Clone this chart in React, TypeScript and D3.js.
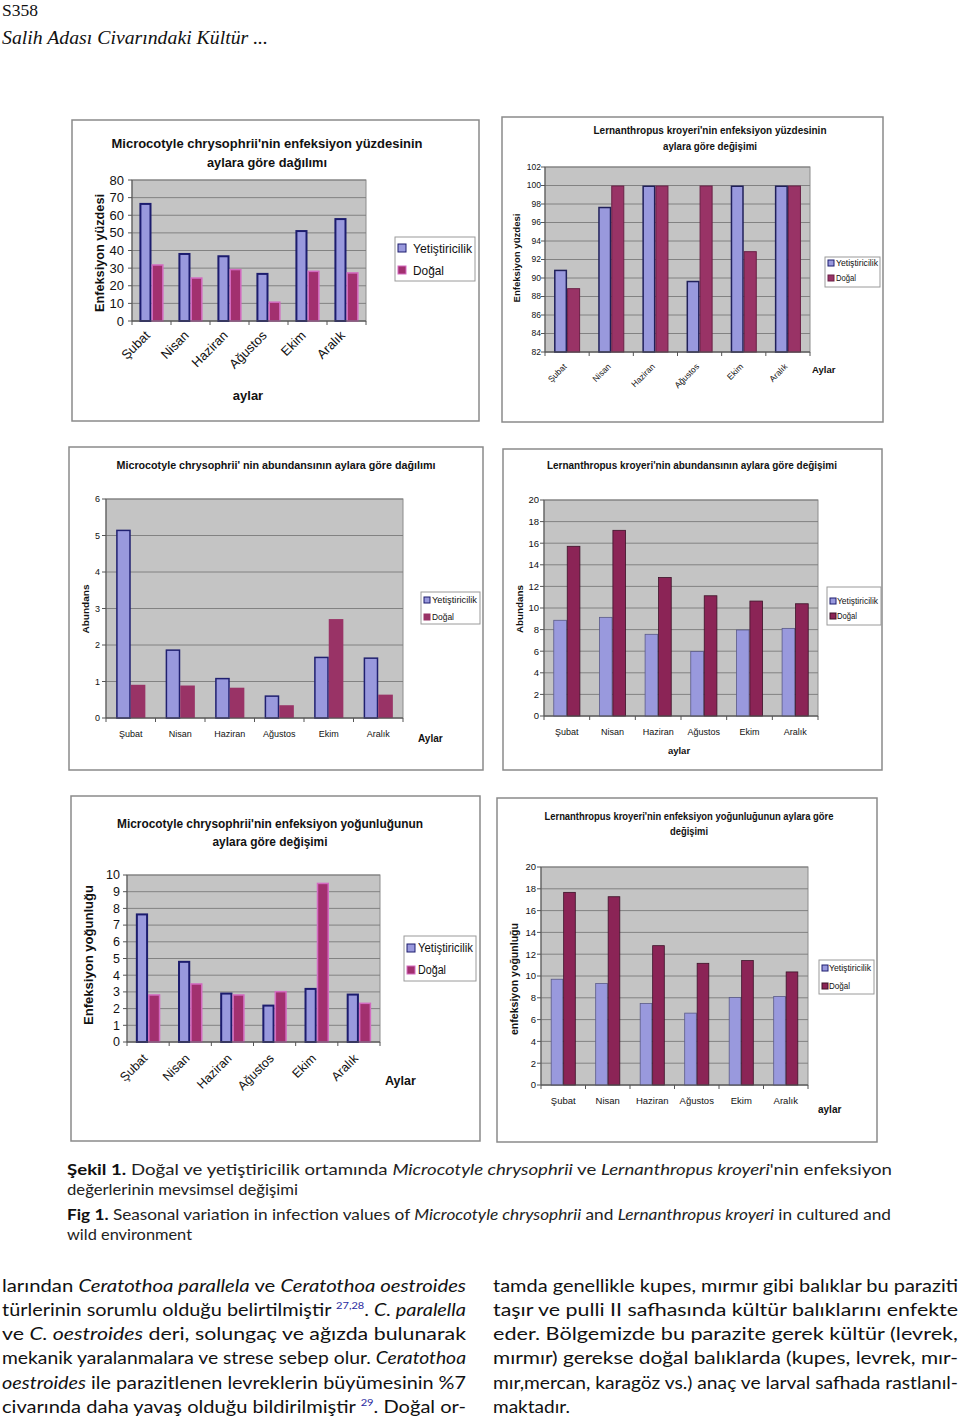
import React from "react";
import * as d3 from "d3";

// ---------- DATA ----------
const months = ["Şubat", "Nisan", "Haziran", "Ağustos", "Ekim", "Aralık"];
const seriesNames = ["Yetiştiricilik", "Doğal"];

const mcPrevYet = [67, 38.6, 37.3, 27.3, 51.6, 58.4];
const mcPrevDog = [32.2, 24.8, 29.6, 11.1, 28.6, 27.7];
const lkPrevYet = [90.9, 97.7, 100, 89.7, 100, 100];
const lkPrevDog = [88.9, 100, 100, 100, 92.9, 100];
const mcAbYet = [5.16, 1.88, 1.1, 0.62, 1.68, 1.66];
const mcAbDog = [0.91, 0.89, 0.83, 0.35, 2.71, 0.64];
const lkAbYet = [8.9, 9.17, 7.6, 6.0, 8.0, 8.15];
const lkAbDog = [15.75, 17.23, 12.86, 11.17, 10.68, 10.43];
const mcIntYet = [7.7, 4.86, 2.96, 2.24, 3.24, 2.9];
const mcIntDog = [2.86, 3.52, 2.86, 3.06, 9.54, 2.36];
const lkIntYet = [9.74, 9.34, 7.51, 6.63, 8.06, 8.15];
const lkIntDog = [17.71, 17.31, 12.82, 11.2, 11.45, 10.41];

const ticksPrevMc = [0, 10, 20, 30, 40, 50, 60, 70, 80];
const ticksPrevLk = [82, 84, 86, 88, 90, 92, 94, 96, 98, 100, 102];
const ticksAbMc = [0, 1, 2, 3, 4, 5, 6];
const ticksAbLk = [0, 2, 4, 6, 8, 10, 12, 14, 16, 18, 20];
const ticksIntMc = [0, 1, 2, 3, 4, 5, 6, 7, 8, 9, 10];
const ticksIntLk = [0, 2, 4, 6, 8, 10, 12, 14, 16, 18, 20];

// ---------- STYLES ----------
const SANS = "'Liberation Sans', Arial, sans-serif";
const YET_FILL = "#9999dd";
const styleA = { yetStroke: "#1c1c6e", yetSW: 2, dogFill: "#a2306f", dogStroke: "#d36ac0", dogSW: 1.5 };
const styleB = { yetStroke: "#20205a", yetSW: 1.5, dogFill: "#993366", dogStroke: "#6a2046", dogSW: 1 };
const styleC = { yetStroke: "#202070", yetSW: 1.5, dogFill: "#993366", dogStroke: "none", dogSW: 0 };
const styleD = { yetStroke: "#5a5a88", yetSW: 0.8, dogFill: "#8b2456", dogStroke: "#3c1228", dogSW: 0.8 };

const charts = [
  {
    frame: [72, 120, 479, 421], plot: [132, 180, 366, 321], domain: [0, 80], ticks: ticksPrevMc,
    yet: mcPrevYet, dog: mcPrevDog, tickFont: 13, tickRight: 124,
    title: ["Microcotyle chrysophrii'nin enfeksiyon yüzdesinin", "aylara göre dağılımı"],
    titleCx: 267, titleY: [148, 167], titleW: [311, 120], titleFont: 12,
    yTitle: "Enfeksiyon yüzdesi", yTitleX: 99, yTitleCy: 253, yTitleLen: 118, yTitleFont: 13,
    rotate: true, catFont: 13, catDx: -4, catDy: 12,
    xTitle: "aylar", xTitleX: 248, xTitleY: 400, xTitleAnchor: "middle", xTitleFont: 13,
    legend: [395, 237, 475, 281], legY: [248, 270], legSw: 398, legSwS: 8, legText: 413, legFont: 13, legW: [59, 31],
    style: styleA, pi: 0.38,
  },
  {
    frame: [502, 117, 883, 422], plot: [545, 167, 810, 352], domain: [82, 102], ticks: ticksPrevLk,
    yet: lkPrevYet, dog: lkPrevDog, tickFont: 8.5, tickRight: 541,
    title: ["Lernanthropus kroyeri'nin enfeksiyon yüzdesinin", "aylara göre değişimi"],
    titleCx: 710, titleY: [134, 150], titleW: [233, 94], titleFont: 10,
    yTitle: "Enfeksiyon yüzdesi", yTitleX: 517, yTitleCy: 258, yTitleLen: 89, yTitleFont: 9,
    rotate: true, catFont: 8.5, catDx: -2, catDy: 13,
    xTitle: "Aylar", xTitleX: 812, xTitleY: 373, xTitleAnchor: "start", xTitleFont: 9.5,
    legend: [825, 257, 880, 287], legY: [263, 278], legSw: 828, legSwS: 6, legText: 836, legFont: 8.5, legW: [42, 20],
    style: styleB, pi: 0.41,
  },
  {
    frame: [69, 447, 483, 770], plot: [106, 499, 403, 718], domain: [0, 6], ticks: ticksAbMc,
    yet: mcAbYet, dog: mcAbDog, tickFont: 9, tickRight: 100,
    title: ["Microcotyle chrysophrii' nin abundansının aylara göre dağılımı"],
    titleCx: 276, titleY: [469], titleW: [319], titleFont: 11,
    yTitle: "Abundans", yTitleX: 86, yTitleCy: 609, yTitleLen: 49, yTitleFont: 9.5,
    rotate: false, catFont: 9, catBase: 737,
    xTitle: "Aylar", xTitleX: 418, xTitleY: 742, xTitleAnchor: "start", xTitleFont: 10,
    legend: [421, 592, 480, 624], legY: [600, 617], legSw: 424, legSwS: 6, legText: 432, legFont: 9.5, legW: [45, 22],
    style: styleC, pi: 0.41,
  },
  {
    frame: [503, 449, 882, 770], plot: [544, 500, 818, 716], domain: [0, 20], ticks: ticksAbLk,
    yet: lkAbYet, dog: lkAbDog, tickFont: 9.5, tickRight: 539,
    title: ["Lernanthropus kroyeri'nin abundansının aylara göre değişimi"],
    titleCx: 692, titleY: [469], titleW: [290], titleFont: 10.5,
    yTitle: "Abundans", yTitleX: 520, yTitleCy: 609, yTitleLen: 48, yTitleFont: 9.5,
    rotate: false, catFont: 9, catBase: 735,
    xTitle: "aylar", xTitleX: 679, xTitleY: 754, xTitleAnchor: "middle", xTitleFont: 9.5,
    legend: [827, 587, 881, 625], legY: [601, 616], legSw: 830, legSwS: 6, legText: 837, legFont: 9, legW: [41, 20],
    style: styleD, pi: 0.41,
  },
  {
    frame: [71, 796, 480, 1141], plot: [127, 875, 380, 1042], domain: [0, 10], ticks: ticksIntMc,
    yet: mcIntYet, dog: mcIntDog, tickFont: 12.5, tickRight: 120,
    title: ["Microcotyle chrysophrii'nin  enfeksiyon yoğunluğunun", "aylara göre değişimi"],
    titleCx: 270, titleY: [828, 846], titleW: [306, 115], titleFont: 12,
    yTitle: "Enfeksiyon yoğunluğu", yTitleX: 88, yTitleCy: 955, yTitleLen: 140, yTitleFont: 13,
    rotate: true, catFont: 12.5, catDx: -3, catDy: 14,
    xTitle: "Aylar", xTitleX: 385, xTitleY: 1085, xTitleAnchor: "start", xTitleFont: 12.5,
    legend: [404, 936, 476, 981], legY: [948, 970], legSw: 407, legSwS: 8, legText: 418, legFont: 12.5, legW: [55, 28],
    style: styleA, pi: 0.42,
  },
  {
    frame: [497, 798, 877, 1142], plot: [541, 867, 808, 1085], domain: [0, 20], ticks: ticksIntLk,
    yet: lkIntYet, dog: lkIntDog, tickFont: 9.5, tickRight: 536,
    title: ["Lernanthropus kroyeri'nin enfeksiyon yoğunluğunun aylara göre", "değişimi"],
    titleCx: 689, titleY: [820, 835], titleW: [289, 38], titleFont: 10.5,
    yTitle: "enfeksiyon yoğunluğu", yTitleX: 514, yTitleCy: 979, yTitleLen: 112, yTitleFont: 10,
    rotate: false, catFont: 9.5, catBase: 1104,
    xTitle: "aylar", xTitleX: 818, xTitleY: 1113, xTitleAnchor: "start", xTitleFont: 10,
    legend: [819, 960, 874, 994], legY: [968, 986], legSw: 822, legSwS: 6, legText: 829, legFont: 9.5, legW: [42, 21],
    style: styleD, pi: 0.44,
  },
];

function Chart({ c }: { c: any }) {
  const [fx0, fy0, fx1, fy1] = c.frame;
  const [px0, py0, px1, py1] = c.plot;
  const y = d3.scaleLinear().domain(c.domain).range([py1, py0]);
  const x = d3.scaleBand().domain(months).range([px0, px1]).paddingInner(c.pi).paddingOuter(c.pi / 2);
  const xs = d3.scaleBand().domain(seriesNames).range([0, x.bandwidth()]);
  const step = x.step();
  const st = c.style;
  const [lx0, ly0, lx1, ly1] = c.legend;
  const vals = [c.yet, c.dog];
  return (
    <g fontFamily={SANS}>
      <rect x={fx0} y={fy0} width={fx1 - fx0} height={fy1 - fy0} fill="#fff" stroke="#8a8a8a" strokeWidth={1.5} />
      <rect x={px0} y={py0} width={px1 - px0} height={py1 - py0} fill="#c4c4c4" stroke="#8c8c8c" strokeWidth={1} />
      {c.ticks.map((t: number) => (
        <line key={"g" + t} x1={px0} x2={px1} y1={y(t)} y2={y(t)} stroke="#7a7a7a" strokeWidth={0.9} />
      ))}
      {months.map((m, i) =>
        seriesNames.map((s, j) => {
          const v = vals[j][i];
          const bx = (x(m) as number) + (xs(s) as number);
          const isYet = j === 0;
          const sw = isYet ? st.yetSW : st.dogSW;
          return (
            <rect
              key={m + s}
              x={bx + sw / 2}
              y={y(v) + sw / 2}
              width={xs.bandwidth() - sw}
              height={Math.max(0, y(c.domain[0]) - y(v) - sw / 2)}
              fill={isYet ? YET_FILL : st.dogFill}
              stroke={isYet ? st.yetStroke : st.dogStroke}
              strokeWidth={sw}
            />
          );
        })
      )}
      {/* axes */}
      <line x1={px0} x2={px0} y1={py0} y2={py1} stroke="#555" strokeWidth={1} />
      <line x1={px0} x2={px1} y1={py1} y2={py1} stroke="#555" strokeWidth={1} />
      {c.ticks.map((t: number) => (
        <g key={"t" + t}>
          <line x1={px0 - 4} x2={px0} y1={y(t)} y2={y(t)} stroke="#555" strokeWidth={1} />
          <text x={c.tickRight} y={y(t)} dy="0.35em" textAnchor="end" fontSize={c.tickFont} fill="#111">
            {t}
          </text>
        </g>
      ))}
      {d3.range(months.length + 1).map((k) => (
        <line key={"xt" + k} x1={px0 + k * step} x2={px0 + k * step} y1={py1} y2={py1 + 4} stroke="#555" strokeWidth={1} />
      ))}
      {months.map((m) => {
        const cx = (x(m) as number) + x.bandwidth() / 2;
        return c.rotate ? (
          <text
            key={"c" + m}
            transform={`translate(${cx + c.catDx},${py1 + c.catDy}) rotate(-45)`}
            dy="0.35em"
            textAnchor="end"
            fontSize={c.catFont}
            fill="#111"
          >
            {m}
          </text>
        ) : (
          <text key={"c" + m} x={cx} y={c.catBase} textAnchor="middle" fontSize={c.catFont} fill="#111">
            {m}
          </text>
        );
      })}
      {/* title */}
      {c.title.map((t: string, i: number) => (
        <text
          key={"ti" + i}
          x={c.titleCx}
          y={c.titleY[i]}
          textAnchor="middle"
          fontSize={c.titleFont}
          fontWeight="bold"
          fill="#111"
          textLength={c.titleW[i]}
          lengthAdjust="spacingAndGlyphs"
        >
          {t}
        </text>
      ))}
      <text
        transform={`translate(${c.yTitleX},${c.yTitleCy}) rotate(-90)`}
        textAnchor="middle"
        dy="0.35em"
        fontSize={c.yTitleFont}
        fontWeight="bold"
        fill="#111"
        textLength={c.yTitleLen}
        lengthAdjust="spacingAndGlyphs"
      >
        {c.yTitle}
      </text>
      <text x={c.xTitleX} y={c.xTitleY} textAnchor={c.xTitleAnchor} fontSize={c.xTitleFont} fontWeight="bold" fill="#111">
        {c.xTitle}
      </text>
      {/* legend */}
      <rect x={lx0} y={ly0} width={lx1 - lx0} height={ly1 - ly0} fill="#fff" stroke="#9a9a9a" strokeWidth={1} />
      {seriesNames.map((s, j) => (
        <g key={"l" + s}>
          <rect
            x={c.legSw}
            y={c.legY[j] - c.legSwS / 2}
            width={c.legSwS}
            height={c.legSwS}
            fill={j === 0 ? YET_FILL : st.dogFill}
            stroke={j === 0 ? "#1c1c6e" : st.dogStroke === "none" ? st.dogFill : st.dogStroke}
            strokeWidth={1}
          />
          <text
            x={c.legText}
            y={c.legY[j]}
            dy="0.35em"
            fontSize={c.legFont}
            fill="#111"
            textLength={c.legW[j]}
            lengthAdjust="spacingAndGlyphs"
          >
            {s}
          </text>
        </g>
      ))}
    </g>
  );
}

const BODY = "Lato, 'Open Sans', sans-serif";
const SUP = "#2a2aa0";

function Sup({ t }: { t: string }) {
  return (
    <tspan fontSize={10} dy={-7} fill={SUP}>
      {t}
    </tspan>
  );
}

export default function App() {
  return (
    <svg width={960} height={1420} style={{ position: "absolute", left: 0, top: 0 }}>
      <rect x={0} y={0} width={960} height={1420} fill="#fff" />
      <text x={2} y={16} fontFamily="'Liberation Serif', serif" fontSize={17} fill="#111" textLength={36} lengthAdjust="spacingAndGlyphs">
        S358
      </text>
      <text x={2} y={44} fontFamily="'Liberation Serif', serif" fontStyle="italic" fontSize={19} fill="#111" textLength={266} lengthAdjust="spacingAndGlyphs">
        Salih Adası Civarındaki Kültür ...
      </text>

      {charts.map((c, i) => (
        <Chart key={i} c={c} />
      ))}

      {/* caption */}
      <g fontFamily={BODY} fontSize={16} fill="#222">
        <text x={67} y={1175} textLength={825} lengthAdjust="spacingAndGlyphs">
          <tspan fontWeight="bold" fill="#111">Şekil 1.</tspan> Doğal ve yetiştiricilik ortamında{" "}
          <tspan fontStyle="italic">Microcotyle chrysophrii</tspan> ve <tspan fontStyle="italic">Lernanthropus kroyeri</tspan>'nin enfeksiyon
        </text>
        <text x={67} y={1195} textLength={231} lengthAdjust="spacingAndGlyphs">
          değerlerinin mevsimsel değişimi
        </text>
        <text x={67} y={1220} textLength={824} lengthAdjust="spacingAndGlyphs">
          <tspan fontWeight="bold" fill="#111">Fig 1.</tspan> Seasonal variation in infection values of{" "}
          <tspan fontStyle="italic">Microcotyle chrysophrii</tspan> and <tspan fontStyle="italic">Lernanthropus kroyeri</tspan> in cultured and
        </text>
        <text x={67} y={1240} textLength={125} lengthAdjust="spacingAndGlyphs">
          wild environment
        </text>
      </g>

      {/* body text */}
      <g fontFamily={BODY} fontSize={18} fill="#111">
        <text x={2} y={1292} textLength={464} lengthAdjust="spacingAndGlyphs">
          larından <tspan fontStyle="italic">Ceratothoa parallela</tspan> ve <tspan fontStyle="italic">Ceratothoa oestroides</tspan>
        </text>
        <text x={2} y={1316} textLength={464} lengthAdjust="spacingAndGlyphs">
          türlerinin sorumlu olduğu belirtilmiştir <Sup t="27,28" />
          <tspan dy={7}>. </tspan>
          <tspan fontStyle="italic">C. paralella</tspan>
        </text>
        <text x={2} y={1340} textLength={464} lengthAdjust="spacingAndGlyphs">
          ve <tspan fontStyle="italic">C. oestroides</tspan> deri, solungaç ve ağızda bulunarak
        </text>
        <text x={2} y={1364} textLength={464} lengthAdjust="spacingAndGlyphs">
          mekanik yaralanmalara ve strese sebep olur. <tspan fontStyle="italic">Ceratothoa</tspan>
        </text>
        <text x={2} y={1389} textLength={464} lengthAdjust="spacingAndGlyphs">
          <tspan fontStyle="italic">oestroides</tspan> ile parazitlenen levreklerin büyümesinin %7
        </text>
        <text x={2} y={1413} textLength={464} lengthAdjust="spacingAndGlyphs">
          civarında daha yavaş olduğu bildirilmiştir <Sup t="29" />
          <tspan dy={7}>. Doğal or-</tspan>
        </text>

        <text x={493} y={1292} textLength={465} lengthAdjust="spacingAndGlyphs">
          tamda genellikle kupes, mırmır gibi balıklar bu paraziti
        </text>
        <text x={493} y={1316} textLength={465} lengthAdjust="spacingAndGlyphs">
          taşır ve pulli II safhasında kültür balıklarını enfekte
        </text>
        <text x={493} y={1340} textLength={465} lengthAdjust="spacingAndGlyphs">
          eder. Bölgemizde bu parazite gerek kültür (levrek,
        </text>
        <text x={493} y={1364} textLength={465} lengthAdjust="spacingAndGlyphs">
          mırmır) gerekse doğal balıklarda (kupes, levrek, mır-
        </text>
        <text x={493} y={1389} textLength={465} lengthAdjust="spacingAndGlyphs">
          mır,mercan, karagöz vs.) anaç ve larval safhada rastlanıl-
        </text>
        <text x={493} y={1413} textLength={77} lengthAdjust="spacingAndGlyphs">
          maktadır.
        </text>
      </g>
    </svg>
  );
}
